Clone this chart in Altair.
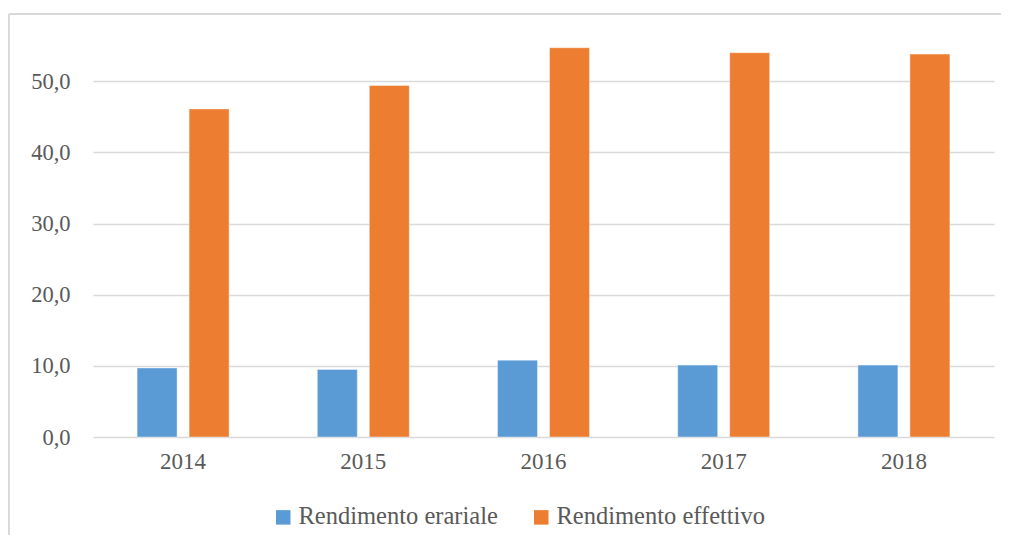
import altair as alt
import pandas as pd

years = ["2014", "2015", "2016", "2017", "2018"]
series = ["Rendimento erariale", "Rendimento effettivo"]
erariale = [9.7, 9.5, 10.8, 10.1, 10.1]
effettivo = [46.1, 49.4, 54.7, 54.0, 53.8]
colors = ["#5B9BD5", "#ED7D31"]
y_ticks = [0, 10, 20, 30, 40, 50]

rows = []
for yr, a, b in zip(years, erariale, effettivo):
    rows.append({"anno": yr, "serie": series[0], "valore": a})
    rows.append({"anno": yr, "serie": series[1], "valore": b})
df = pd.DataFrame(rows)

FONT = "'Liberation Serif', 'Times New Roman', 'DejaVu Serif', serif"
TXT = "#595959"
GRID = "#D9D9D9"

bars = alt.Chart(df).mark_bar(stroke="white", strokeWidth=0.6, strokeOpacity=0.7).encode(
    x=alt.X("anno:N", sort=years,
            scale=alt.Scale(paddingInner=0, paddingOuter=0),
            axis=alt.Axis(title=None, labelAngle=0, domain=False, ticks=False,
                          labelPadding=13, labelFont=FONT, labelFontSize=23,
                          labelColor=TXT, grid=False)),
    xOffset=alt.XOffset("serie:N", sort=series,
                        scale=alt.Scale(paddingInner=0.2308, paddingOuter=0.848)),
    y=alt.Y("valore:Q", scale=alt.Scale(domain=[0, 60], nice=False),
            axis=alt.Axis(title=None, values=y_ticks,
                          labelExpr="replace(format(datum.value, '.1f'), '.', ',')",
                          domain=False, ticks=False, gridColor=GRID, gridWidth=1.6,
                          labelPadding=23, labelFont=FONT, labelFontSize=22.5,
                          labelColor=TXT)),
    color=alt.Color("serie:N", sort=series,
                    scale=alt.Scale(domain=series, range=colors),
                    legend=alt.Legend(title=None, orient="none", legendX=178, legendY=495,
                                      direction="horizontal", symbolType="square",
                                      symbolSize=210, symbolStrokeWidth=0,
                                      labelFont=FONT, labelFontSize=24.5, labelColor=TXT,
                                      columnPadding=31, labelOffset=3, padding=0,
                                      labelLimit=400)),
)

frame_data = alt.Data(values=[{"k": 1}])
left_border = alt.Chart(frame_data).mark_rule(color=GRID, strokeWidth=2).encode(
    x=alt.value(-84), y=alt.value(4), y2=alt.value(540))
top_border = alt.Chart(frame_data).mark_rule(color=GRID, strokeWidth=2).encode(
    x=alt.value(-84), x2=alt.value(930), y=alt.value(4))

chart = alt.layer(bars, left_border, top_border).properties(
    width=901, height=427,
    padding={"left": 85, "top": 2, "right": 7, "bottom": 98},
    autosize=alt.AutoSizeParams(type="none"),
).configure_view(stroke=None)

chart.save("out.html", embed_options={"renderer": "svg", "actions": False})
